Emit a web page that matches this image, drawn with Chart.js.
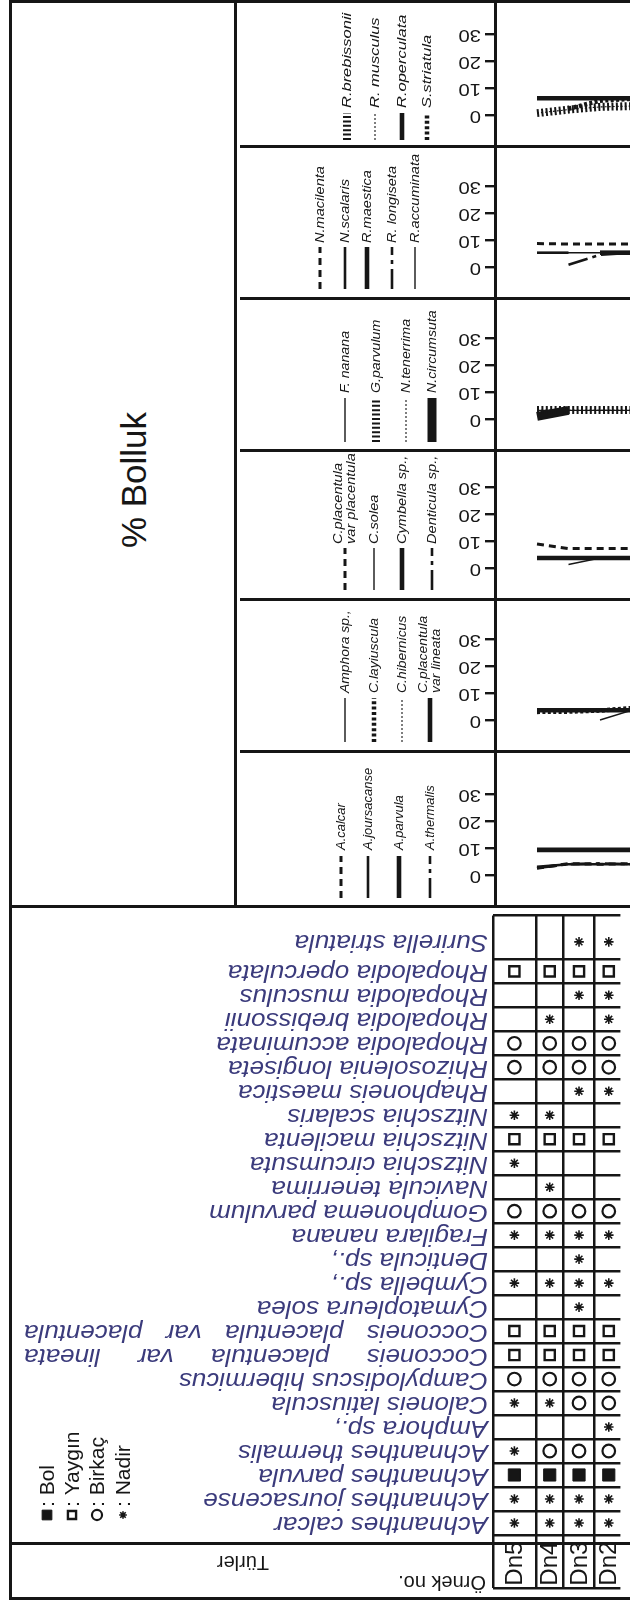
<!DOCTYPE html>
<html>
<head>
<meta charset="utf-8">
<title>% Bolluk</title>
<script src="https://cdn.jsdelivr.net/npm/chart.js@4.4.1/dist/chart.umd.min.js"></script>
<style>
  html, body { margin: 0; padding: 0; background: #fff; overflow: hidden; }
  #fig { position: relative; width: 630px; height: 1603px; overflow: hidden; background: #fff; }
  #fig canvas { position: absolute; }
  .rule { position: absolute; background: #161616; }
  #title { position: absolute; left: 134px; top: 480px; font: 35px "Liberation Sans", Arial, sans-serif;
           color: #161616; white-space: nowrap; transform: translate(-50%, -50%) rotate(-90deg); }
</style>
</head>
<body>
<div id="fig"><div id="title">% Bolluk</div></div>
<script>
/* ---------------- data ---------------- */
const samples = ['Dn5', 'Dn4', 'Dn3', 'Dn2'];

const species = [
  'Surirella striatula', 'Rhopalodia operculata', 'Rhopalodia musculus', 'Rhopalodia brebissonii',
  'Rhopalodia accuminata', 'Rhizosolenia longiseta', 'Rhaphoneis maestica', 'Nitzschia scalaris',
  'Nitzschia macilenta', 'Nitzschia circumsuta', 'Navicula tenerrima', 'Gomphonema parvulum',
  'Fragilara nanana', 'Denticula sp.,', 'Cymbella sp.,', 'Cymatopleura solea',
  'Cocconeis placentula var placentula', 'Cocconeis placentula var lineata',
  'Campylodiscus hibermicus', 'Caloneis latiuscula', 'Amphora sp.,', 'Achnanthes thermalis',
  'Achnanthes parvula', 'Achnanthes joursacense', 'Achnanthes calcar'
];

// abundance class per species: B = Bol, Y = Yaygın, K = Birkaç, N = Nadir, '' = absent
const dn5 = ['', 'Y', '', '', 'K', 'K', '', 'N', 'Y', 'N', '', 'K', 'N', '', 'N', '', 'Y', 'Y', 'K', 'N', '', 'N', 'B', 'N', 'N'];
const dn4 = ['', 'Y', '', 'N', 'K', 'K', '', 'N', 'Y', '', 'N', 'K', 'N', '', 'N', '', 'Y', 'Y', 'K', 'N', '', 'K', 'B', 'N', 'N'];
const dn3 = ['N', 'Y', 'N', '', 'K', 'K', 'N', '', 'Y', '', '', 'K', 'N', 'N', 'N', 'N', 'Y', 'Y', 'K', 'K', '', 'K', 'B', 'N', 'N'];
const dn2 = ['N', 'Y', 'N', 'N', 'K', 'K', 'N', '', 'Y', '', '', 'K', 'N', '', 'N', '', 'Y', 'Y', 'K', 'K', 'N', 'K', 'B', 'N', 'N'];

const abundanceClasses = ['B', 'Y', 'K', 'N'];
const abundanceNames = ['Bol', 'Yaygın', 'Birkaç', 'Nadir'];

const valueTicks = [0, 10, 20, 30];

// % abundance, one value per sample (Dn5, Dn4, Dn3, Dn2)
const rBrebissonii = [0.7, 2, 3, 3.3];
const rMusculus    = [0.7, 2, 3, 3.3];
const rOperculata  = [6.2, 6.2, 6.2, 6.2];
const sStriatula   = [null, 2.3, 5.3, 6];

const nMacilenta   = [8.7, 8.5, 8.5, 8.5];
const nScalaris    = [5.3, 5.3, null, null];
const rMaestica    = [null, null, 5.3, 5.3];
const rLongiseta   = [null, 0.8, 4.5, 5.3];
const rAccuminata  = [5.3, 5.3, 5.3, 5.3];

const fNanana      = [3.2, 3.2, 3.2, 3.2];
const gParvulum    = [3.3, 3.3, 3.3, 3.3];
const nTenerrima   = [3.2, 3.2, 3.2, 3.2];
const nCircumsuta  = [1, 3.2, null, null];

const cPlacPlac    = [8.9, 7.2, 7.2, 7.2];
const cSolea       = [null, 1.3, 3.7, 3.7];
const cymbella     = [3.7, 3.7, 3.7, 3.7];
const denticula    = [null, null, 3.7, 3.7];

const amphora      = [null, null, 0, 3.6];
const cLayiuscula  = [3, 3.1, 3.5, 4.4];
const cHibernicus  = [3.3, 3.3, 3.3, 3.3];
const cPlacLineata = [3.6, 3.6, 3.6, 3.6];

const aCalcar      = [2.5, 4.2, 4, 4.2];
const aJoursacanse = [3, 4, 4, 4];
const aParvula     = [9.3, 9.3, 9.3, 9.3];
const aThermalis   = [2.6, 4, 4.3, 4];

const panels = [
  [['R.brebissonii', rBrebissonii, 'hatch'], ['R. musculus', rMusculus, 'dotThin'],
   ['R.operculata', rOperculata, 'thick'], ['S.striatula', sStriatula, 'dotThick']],
  [['N.macilenta', nMacilenta, 'dash'], ['N.scalaris', nScalaris, 'medium'],
   ['R.maestica', rMaestica, 'thick'], ['R. longiseta', rLongiseta, 'dashDot'],
   ['R.accuminata', rAccuminata, 'thin']],
  [['F. nanana', fNanana, 'thin'], ['G.parvulum', gParvulum, 'hatch'],
   ['N.tenerrima', nTenerrima, 'dotThin'], ['N.circumsuta', nCircumsuta, 'bar']],
  [['C.placentula\nvar placentula', cPlacPlac, 'dash'], ['C.solea', cSolea, 'thin'],
   ['Cymbella sp.,', cymbella, 'thick'], ['Denticula sp.,', denticula, 'dashDot']],
  [['Amphora sp.,', amphora, 'thin'], ['C.layiuscula', cLayiuscula, 'dotThick'],
   ['C.hibernicus', cHibernicus, 'dotThin'], ['C.placentula\nvar lineata', cPlacLineata, 'thick']],
  [['A.calcar', aCalcar, 'dash'], ['A.joursacanse', aJoursacanse, 'medium'],
   ['A.parvula', aParvula, 'thick'], ['A.thermalis', aThermalis, 'dashDot']]
];

/* ---------------- styles & layout ---------------- */
const FONT = '"Liberation Sans", Arial, Helvetica, sans-serif';
const INK = '#161616';
const NAME_INK = '#3b3b7c';

const lineKinds = {
  dash:     { width: 3,   dash: [7, 5] },
  dashDot:  { width: 2.6, dash: [20, 5, 4, 5] },
  thin:     { width: 1.4, dash: [] },
  medium:   { width: 2.6, dash: [] },
  thick:    { width: 4.6, dash: [] },
  bar:      { width: 9,   dash: [] },
  hatch:    { width: 8,   dash: [2, 2.4] },
  dotThin:  { width: 1.1, dash: [2, 2] },
  dotThick: { width: 4.5, dash: [3, 2.4] }
};

const PANEL_LEFT = 240, PANEL_RIGHT = 630;
const AXIS_X = 495;
const panelEdges = [0, 146, 298, 450, 599, 751, 906];
const FIRST_X = 537, STEP_X = 31.5;
const PX_PER_UNIT = 2.7, ZERO_FROM_BOTTOM = 31;
const TICK_RIGHT = 481, TICK_FONT = 16, TICK_STRETCH = 1.27;
const LEGEND_FONT = 13.5;
const legendX = [
  [347, 375, 402, 427], [320, 345, 367, 392, 415], [345, 376, 406, 432],
  [345, 374, 402, 432], [345, 374, 402, 430], [341, 368, 399, 430]
];
const legendGeom = [
  { bottom: 6, len: 27, gap: 5, stretch: 1.22 }, { bottom: 9, len: 42, gap: 4, stretch: 1.08 },
  { bottom: 8, len: 44, gap: 5, stretch: 1.05 }, { bottom: 9, len: 42, gap: 4, stretch: 1.08 },
  { bottom: 9, len: 44, gap: 5, stretch: 1.03 }, { bottom: 8, len: 42, gap: 6, stretch: 0.96 }
];

const FIG_LEFT = 10;
const TABLE_TOP = 906, HEADER_TOP = 1543, TABLE_BOTTOM = 1598;
const GRID_LEFT = 493;
const colEdges = [0, 46, 76, 109, 140];
const FIRST_ROW_H = 45, FIRST_ROW_MID = 27;
const NAME_RIGHT = 488, NAME_FONT = 23, NAME_STRETCH = 1.13, WIDE_NAME_LEFT = 24;

const fig = document.getElementById('fig');

function rule(x, y, w, h) {
  const d = document.createElement('div');
  d.className = 'rule';
  Object.assign(d.style, { left: x + 'px', top: y + 'px', width: w + 'px', height: h + 'px' });
  fig.appendChild(d);
}
function addCanvas(x, y, w, h) {
  const c = document.createElement('canvas');
  c.width = w; c.height = h;
  Object.assign(c.style, { left: x + 'px', top: y + 'px', width: w + 'px', height: h + 'px' });
  fig.appendChild(c);
  return c;
}

/* frame */
rule(8.5, 0, 640, 3);
rule(8.5, 0, 3, 1600);
rule(8.5, 1596.5, 640, 3);
rule(233.5, 0, 3, TABLE_TOP);
panelEdges.slice(1, -1).forEach(e => rule(PANEL_LEFT, e - 1.5, PANEL_RIGHT - PANEL_LEFT, 3));
rule(FIG_LEFT, TABLE_TOP - 1.5, 640, 3);
rule(FIG_LEFT, HEADER_TOP - 1.5, 640, 3);

/* ---------------- abundance panels ---------------- */
const panelDecor = {
  id: 'panelDecor',
  afterDraw(chart, args, opts) {
    const ctx = chart.ctx;
    const ys = chart.scales.y;
    const h = chart.height;
    ctx.save();
    ctx.fillStyle = INK;
    ctx.textBaseline = 'middle';
    ctx.textAlign = 'left';
    // value labels, printed upside down
    ctx.font = `${TICK_FONT}px ${FONT}`;
    ys.ticks.forEach(t => {
      ctx.save();
      ctx.translate(TICK_RIGHT - PANEL_LEFT, ys.getPixelForValue(t.value));
      ctx.rotate(Math.PI);
      ctx.scale(TICK_STRETCH, 1);
      ctx.fillText(String(t.value), 0, 0);
      ctx.restore();
    });
    // vertical legend: line sample with the species name above it
    const g = opts.geom;
    ctx.font = `italic ${LEGEND_FONT}px ${FONT}`;
    chart.data.datasets.forEach((ds, i) => {
      const x = opts.xs[i] - PANEL_LEFT;
      const yb = h - g.bottom, yt = yb - g.len;
      ctx.save();
      ctx.strokeStyle = ds.borderColor;
      ctx.lineWidth = ds.borderWidth;
      ctx.setLineDash(ds.borderDash || []);
      ctx.lineCap = 'butt';
      ctx.beginPath();
      ctx.moveTo(x, yb);
      ctx.lineTo(x, yt);
      ctx.stroke();
      ctx.restore();
      const lines = ds.label.split('\n');
      lines.forEach((ln, j) => {
        ctx.save();
        ctx.translate(x + (j - (lines.length - 1) / 2) * 13, yt - g.gap);
        ctx.rotate(-Math.PI / 2);
        ctx.scale(g.stretch, 1);
        ctx.fillText(ln, 0, 0);
        ctx.restore();
      });
    });
    ctx.restore();
  }
};

panels.forEach((series, p) => {
  const top = panelEdges[p];
  const h = panelEdges[p + 1] - top;
  const cv = addCanvas(PANEL_LEFT, top, PANEL_RIGHT - PANEL_LEFT, h);
  new Chart(cv, {
    type: 'line',
    data: {
      datasets: series.map(([name, values, kind]) => ({
        label: name,
        data: values.map((v, k) => ({ x: k, y: v })),
        borderColor: INK,
        borderWidth: lineKinds[kind].width,
        borderDash: lineKinds[kind].dash,
        borderCapStyle: 'butt',
        pointRadius: 0,
        fill: false,
        tension: 0,
        spanGaps: false
      }))
    },
    options: {
      responsive: false,
      animation: false,
      devicePixelRatio: 1,
      layout: { padding: 0 },
      events: [],
      plugins: {
        legend: { display: false },
        tooltip: { enabled: false },
        panelDecor: { xs: legendX[p], geom: legendGeom[p] }
      },
      scales: {
        x: {
          type: 'linear', display: false,
          min: (AXIS_X - FIRST_X) / STEP_X,
          max: (PANEL_RIGHT - FIRST_X) / STEP_X
        },
        y: {
          type: 'linear',
          min: -ZERO_FROM_BOTTOM / PX_PER_UNIT,
          max: (h - ZERO_FROM_BOTTOM) / PX_PER_UNIT,
          afterFit: s => { s.width = AXIS_X - PANEL_LEFT; },
          afterBuildTicks: s => { s.ticks = valueTicks.map(v => ({ value: v })); },
          ticks: { display: false },
          grid: { display: true, drawOnChartArea: false, drawTicks: true, tickLength: 10,
                  tickWidth: 2.4, tickColor: INK, color: INK, lineWidth: 2.4 },
          border: { display: true, color: INK, width: 3 }
        }
      }
    },
    plugins: [panelDecor]
  });
});

/* ---------------- occurrence table ---------------- */
const tableW = PANEL_RIGHT - FIG_LEFT;
const tableH = TABLE_BOTTOM - TABLE_TOP;
const gridW = PANEL_RIGHT - GRID_LEFT;
const rowH = (HEADER_TOP - TABLE_TOP - FIRST_ROW_H) / (species.length - 1);
const rowEdges = [0];
for (let r = 0; r < species.length; r++) rowEdges.push(FIRST_ROW_H + r * rowH);
rowEdges.push(tableH);
const rowMid = r => (r === 0 ? FIRST_ROW_MID : (rowEdges[r] + rowEdges[r + 1]) / 2);
const colMid = c => (colEdges[c] + colEdges[c + 1]) / 2;

const bySample = [dn5, dn4, dn3, dn2];
const symbolStyle = {
  B: { pointStyle: 'rect', radius: 8.6, fill: INK, border: 1 },
  Y: { pointStyle: 'rect', radius: 7.2, fill: '#fff', border: 2.4 },
  K: { pointStyle: 'circle', radius: 6.3, fill: '#fff', border: 2.2 },
  N: { pointStyle: 'star', radius: 4.8, fill: INK, border: 1.6 }
};

function drawMark(ctx, code, x, y, scale) {
  const st = symbolStyle[code];
  ctx.save();
  ctx.fillStyle = st.fill;
  ctx.strokeStyle = INK;
  ctx.lineWidth = st.border;
  Chart.helpers.drawPoint(ctx, { pointStyle: st.pointStyle, radius: st.radius * scale, rotation: 0,
                                 borderWidth: st.border }, x, y);
  ctx.restore();
}

const tableDecor = {
  id: 'tableDecor',
  afterDraw(chart) {
    const ctx = chart.ctx;
    const xs = chart.scales.x, ys = chart.scales.y;
    const off = FIG_LEFT;
    ctx.save();
    ctx.textBaseline = 'middle';
    ctx.textAlign = 'left';
    // species names, upside down
    ctx.fillStyle = NAME_INK;
    ctx.font = `italic ${NAME_FONT}px ${FONT}`;
    species.forEach((name, r) => {
      const y = ys.getPixelForValue(rowMid(r));
      ctx.save();
      ctx.translate(NAME_RIGHT - off, y);
      ctx.rotate(Math.PI);
      ctx.scale(NAME_STRETCH, 1);
      if (name.includes(' var ')) {
        const words = name.split(' ');
        const ws = words.map(w => ctx.measureText(w).width);
        const span = (NAME_RIGHT - WIDE_NAME_LEFT) / NAME_STRETCH;
        const gap = (span - ws.reduce((a, b) => a + b, 0)) / (words.length - 1);
        let x = 0;
        words.forEach((w, i) => { ctx.fillText(w, x, 0); x += ws[i] + gap; });
      } else {
        ctx.fillText(name, 0, 0);
      }
      ctx.restore();
    });
    // sample labels in the header row
    ctx.fillStyle = INK;
    ctx.font = `24px ${FONT}`;
    ctx.textAlign = 'center';
    const headMid = ys.getPixelForValue((rowEdges[rowEdges.length - 2] + tableH) / 2) + 2;
    samples.forEach((s, c) => {
      ctx.save();
      ctx.translate(xs.getPixelForValue(colMid(c)), headMid);
      ctx.rotate(-Math.PI / 2);
      ctx.fillText(s, 0, 1);
      ctx.restore();
    });
    // header captions, upside down
    ctx.font = `20px ${FONT}`;
    ctx.textAlign = 'center';
    [['Türler', 243, 1562], ['Örnek no.', 442, 1582]].forEach(([t, x, y]) => {
      ctx.save();
      ctx.translate(x - off, y - TABLE_TOP);
      ctx.rotate(Math.PI);
      ctx.fillText(t, 0, 0);
      ctx.restore();
    });
    // key to the abundance marks
    ctx.font = `21px ${FONT}`;
    ctx.textAlign = 'left';
    const keyX = [47, 72, 97, 123];
    abundanceClasses.forEach((code, i) => {
      const x = keyX[i] - off, y0 = 1515 - TABLE_TOP;
      drawMark(ctx, code, x, y0, 0.8);
      ctx.save();
      ctx.translate(x, y0 - 8);
      ctx.rotate(-Math.PI / 2);
      ctx.fillStyle = INK;
      ctx.fillText(': ' + abundanceNames[i], 0, 1);
      ctx.restore();
    });
    ctx.restore();
  }
};

const tableDatasets = abundanceClasses.map(code => {
  const st = symbolStyle[code];
  const pts = [];
  bySample.forEach((col, c) => col.forEach((v, r) => { if (v === code) pts.push({ x: colMid(c), y: rowMid(r) }); }));
  return {
    label: abundanceNames[abundanceClasses.indexOf(code)],
    data: pts,
    pointStyle: st.pointStyle,
    pointRadius: st.radius,
    pointBackgroundColor: st.fill,
    pointBorderColor: INK,
    pointBorderWidth: st.border,
    showLine: false
  };
});

const tcv = addCanvas(FIG_LEFT, TABLE_TOP, tableW, tableH);
new Chart(tcv, {
  type: 'scatter',
  data: { datasets: tableDatasets },
  options: {
    responsive: false,
    animation: false,
    devicePixelRatio: 1,
    events: [],
    layout: { padding: 0 },
    plugins: { legend: { display: false }, tooltip: { enabled: false } },
    scales: {
      x: {
        type: 'linear', min: 0, max: gridW,
        afterFit: s => { s.height = 0; },
        afterBuildTicks: s => { s.ticks = colEdges.filter(v => v <= gridW).map(v => ({ value: v })); },
        ticks: { display: false },
        grid: { color: INK, lineWidth: 2.5, drawTicks: false },
        border: { display: false }
      },
      y: {
        type: 'linear', reverse: true, min: 0, max: tableH,
        afterFit: s => { s.width = GRID_LEFT - FIG_LEFT; },
        afterBuildTicks: s => { s.ticks = rowEdges.map(v => ({ value: v })); },
        ticks: { display: false },
        grid: { color: INK, lineWidth: 2.5, drawTicks: false },
        border: { display: false }
      }
    }
  },
  plugins: [tableDecor]
});
</script>
</body>
</html>
